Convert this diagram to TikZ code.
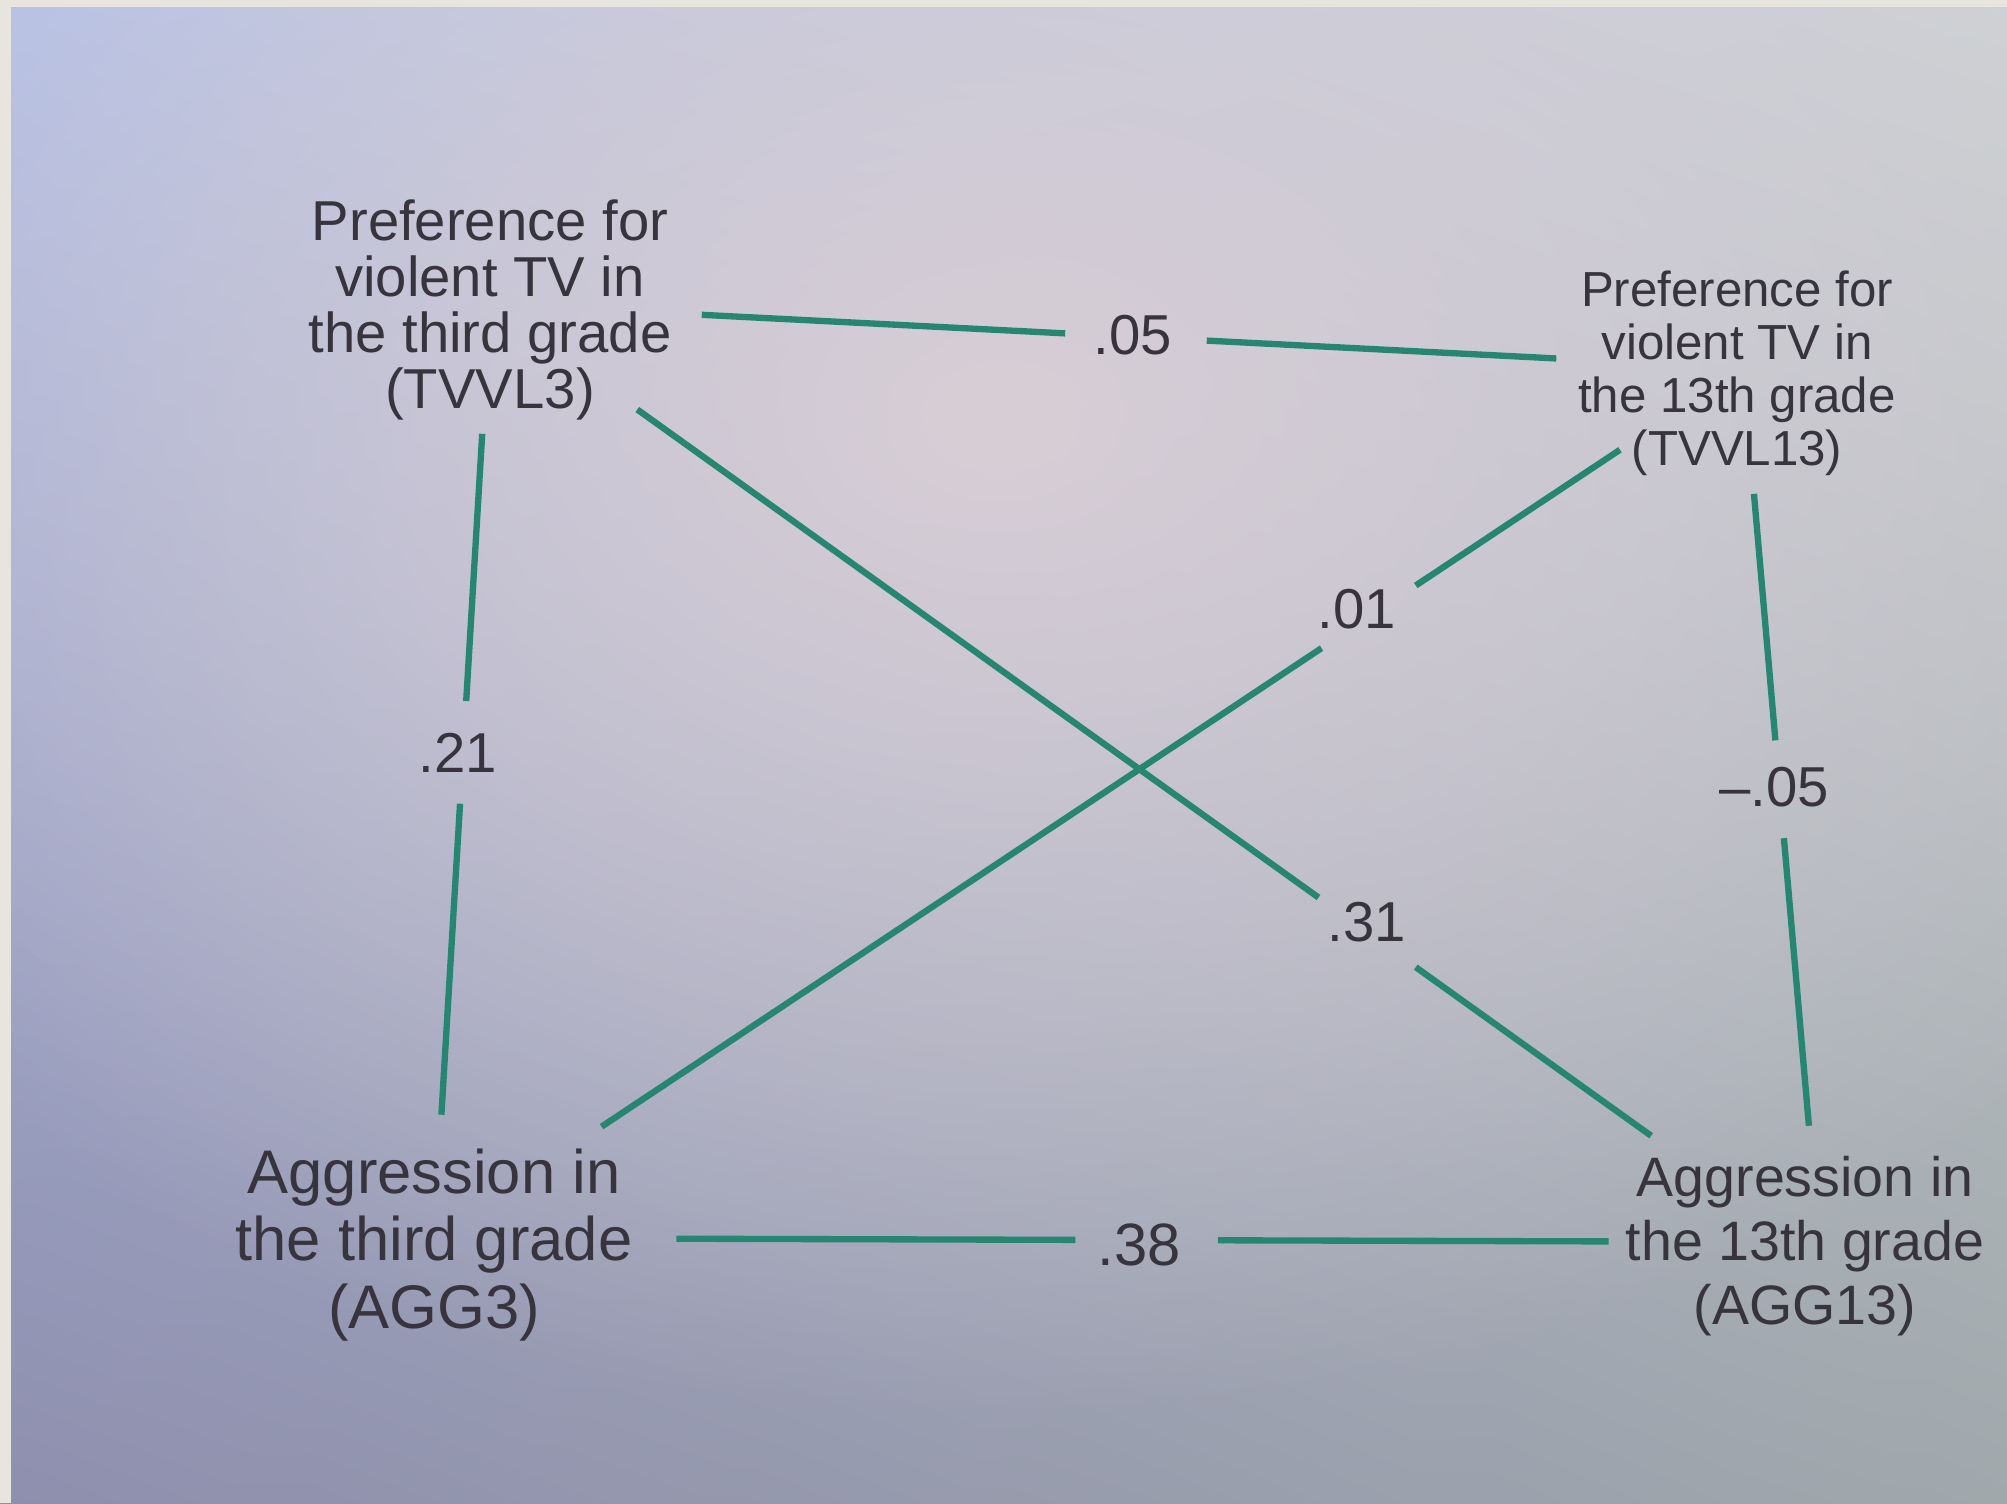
\documentclass[tikz,border=0pt]{standalone}
\usepackage{fontspec}
\setmainfont{Liberation Sans}
\usetikzlibrary{calc,fadings,shadings}
\definecolor{linkc}{HTML}{268672}
\definecolor{inkc}{HTML}{38343E}
\definecolor{ulc}{HTML}{B2C0E8}
\definecolor{urc}{HTML}{CDD2D4}
\definecolor{llc}{HTML}{8E8FAE}
\definecolor{lrc}{HTML}{A0A8AC}
\definecolor{glowc}{HTML}{D8CED6}
\definecolor{framec}{HTML}{E8E4DE}
\tikzfading[name=glow, inner color=transparent!0, outer color=transparent!100]
\begin{document}
\begin{tikzpicture}[x=0.01cm,y=-0.01cm,
  link/.style={draw=linkc, line width=1.8pt},
  entity/.style={align=center, inner sep=0pt, text=inkc},
  coef/.style={inner sep=0pt, text=inkc, font=\fontsize{16}{18}\selectfont}]
\useasboundingbox (0,0) rectangle (2007,1503);
% photographed page background
\shade[upper left=ulc, upper right=urc, lower left=llc, lower right=lrc] (0,0) rectangle (2007,1503);
\fill[glowc, path fading=glow, fill opacity=1] (1000,420) ellipse [x radius=14cm, y radius=10cm];
\fill[framec] (0,0) rectangle (2007,7);
\fill[framec] (0,0) rectangle (11,1503);
% variables
\node[entity, font=\fontsize{16}{15.9}\selectfont] (tv3) at (490,310) {Preference for\\violent TV in\\the third grade\\(TVVL3)};
\node[entity, font=\fontsize{14}{15.1}\selectfont] (tv13) at (1737,373) {Preference for\\violent TV in\\the 13th grade\\(TVVL13)};
\node[entity, font=\fontsize{17.5}{19.1}\selectfont] (ag3) at (434,1245) {Aggression in\\the third grade\\(AGG3)};
\node[entity, font=\fontsize{15.8}{18.2}\selectfont] (ag13) at (1805,1246) {Aggression in\\the 13th grade\\(AGG13)};
% coefficients
\node[coef] (l05) at (1133,335) {.05};
\node[coef] (l21) at (458,753) {.21};
\node[coef] (lm05) at (1774,787) {\textendash.05};
\node[coef] (l31) at (1367,922) {.31};
\node[coef] (l01) at (1357,609) {.01};
\node[coef, font=\fontsize{17}{19}\selectfont] (l38) at (1139,1245) {.38};
\coordinate (tv13b) at ($(tv13)+(6,-5)$);
\coordinate (ag13b) at ($(ag13)+(14,-4)$);
\coordinate (tv3b) at ($(tv3)+(0,-6)$);
\coordinate (ag3b) at ($(ag3)+(0,-7)$);
% connectors
\draw[link] ($(tv3b)!0.169!(tv13b)$) -- ($(tv3b)!0.459!(tv13b)$);
\draw[link] ($(tv3b)!0.572!(tv13b)$) -- ($(tv3b)!0.851!(tv13b)$);
\draw[link] ($(tv3b)!0.139!(ag3b)$) -- ($(tv3b)!0.425!(ag3b)$);
\draw[link] ($(tv3b)!0.535!(ag3b)$) -- ($(tv3b)!0.868!(ag3b)$);
\draw[link] ($(tv13b)!0.144!(ag13b)$) -- ($(tv13b)!0.426!(ag13b)$);
\draw[link] ($(tv13b)!0.538!(ag13b)$) -- ($(tv13b)!0.867!(ag13b)$);
\draw[link] ($(tv3b)!0.112!(ag13)$) -- ($(tv3b)!0.630!(ag13)$);
\draw[link] ($(tv3b)!0.704!(ag13)$) -- ($(tv3b)!0.883!(ag13)$);
\draw[link] ($(ag3b)!0.128!(tv13b)$) -- ($(ag3b)!0.678!(tv13b)$);
\draw[link] ($(ag3b)!0.750!(tv13b)$) -- ($(ag3b)!0.906!(tv13b)$);
\draw[link] ($(ag3b)!0.175!(ag13b)$) -- ($(ag3b)!0.463!(ag13b)$);
\draw[link] ($(ag3b)!0.566!(ag13b)$) -- ($(ag3b)!0.848!(ag13b)$);
\end{tikzpicture}
\end{document}
